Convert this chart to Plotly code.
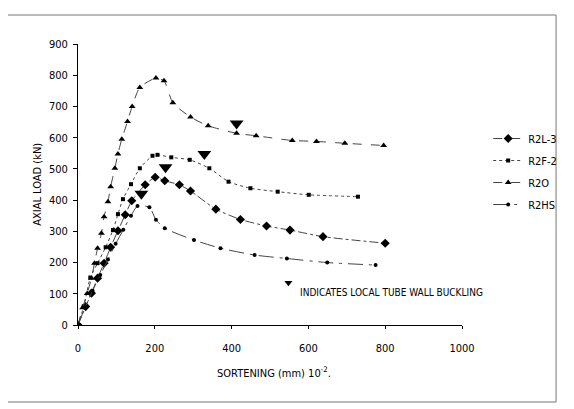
import plotly.graph_objects as go

# ---- data ----
r2l3_x = [0, 20, 35, 51, 68, 85, 104, 123, 140, 175, 201, 226, 264, 293, 359, 423, 491, 552, 638, 800]
r2l3_y = [0, 59, 102, 150, 198, 249, 302, 353, 398, 449, 473, 462, 449, 429, 371, 338, 317, 304, 283, 262]

r2f2_x = [0, 15, 32, 51, 72, 91, 104, 117, 138, 161, 194, 207, 243, 291, 342, 392, 449, 520, 601, 729]
r2f2_y = [0, 60, 152, 198, 249, 304, 355, 403, 451, 502, 542, 545, 537, 529, 502, 459, 438, 427, 417, 411]

r2o_x = [0, 12, 24, 35, 43, 51, 61, 68, 78, 85, 96, 104, 114, 129, 141, 161, 203, 224, 247, 293, 339, 413, 464, 558, 621, 695, 796]
r2o_y = [0, 55, 101, 150, 198, 246, 294, 347, 395, 443, 502, 548, 595, 652, 700, 761, 791, 782, 712, 666, 638, 614, 606, 591, 588, 582, 575]

r2hs_x = [0, 18, 38, 58, 78, 98, 118, 138, 155, 186, 203, 226, 302, 371, 460, 544, 649, 775]
r2hs_y = [0, 55, 110, 160, 210, 260, 305, 350, 381, 377, 337, 310, 272, 246, 224, 213, 200, 192]

buckle_x = [413, 329, 228, 165]
buckle_y = [645, 548, 505, 420]

note_x = [548]
note_y = [135]

x_ticks = [0, 200, 400, 600, 800, 1000]
y_ticks = [0, 100, 200, 300, 400, 500, 600, 700, 800, 900]

FONT = "DejaVu Sans Condensed, Liberation Sans Narrow, Arial Narrow, Liberation Sans, Arial, sans-serif"

fig = go.Figure()

series = [
    ("R2L-3", r2l3_x, r2l3_y, "dashdot", "diamond", 7),
    ("R2F-2", r2f2_x, r2f2_y, "dot", "square", 4),
    ("R2O", r2o_x, r2o_y, "dash", "triangle-up", 6),
    ("R2HS", r2hs_x, r2hs_y, "longdashdot", "circle", 4),
]
for name, xs, ys, dash, sym, sz in series:
    fig.add_trace(go.Scatter(
        x=xs, y=ys, name=name, mode="lines+markers", legendgroup=name,
        line=dict(color="#444444", width=1, dash=dash, shape="spline", smoothing=0.6),
        marker=dict(symbol=sym, size=sz, color="black"),
    ))

fig.add_trace(go.Scatter(
    x=buckle_x, y=buckle_y, mode="markers", showlegend=False,
    marker=dict(symbol="triangle-down", size=12, color="black"),
))
fig.add_trace(go.Scatter(
    x=note_x, y=note_y, mode="markers", showlegend=False,
    marker=dict(symbol="triangle-down", size=7, color="black"),
))

fig.add_annotation(x=572, y=103, xref="x", yref="y", text="INDICATES LOCAL TUBE WALL BUCKLING",
                   showarrow=False, xanchor="left", yanchor="middle",
                   font=dict(family=FONT, size=10, color="black"))
fig.add_annotation(x=(280 - 78) / 396, y=(325 - 372) / 281, xref="paper", yref="paper",
                   text="SORTENING (mm) 10<sup>-2</sup>.", showarrow=False,
                   xanchor="center", yanchor="middle",
                   font=dict(family=FONT, size=11, color="black"))
fig.add_annotation(x=(36 - 78) / 396, y=0.5, xref="paper", yref="paper",
                   text="AXIAL LOAD (kN)", textangle=-90, showarrow=False,
                   xanchor="center", yanchor="middle",
                   font=dict(family=FONT, size=11, color="black"))

# outer frame
fig.add_shape(type="rect", xref="paper", yref="paper",
              x0=(5 - 78) / 396, x1=(571 - 78) / 396,
              y0=(325 - 402) / 281, y1=(325 - 15) / 281,
              line=dict(color="#777777", width=1), fillcolor="rgba(0,0,0,0)")

# page has an 8px body margin, so the figure is shifted by 8px; compensate
fig.update_layout(
    width=566, height=401,
    margin=dict(l=70, r=100, t=36, b=84),
    paper_bgcolor="white", plot_bgcolor="white",
    font=dict(family=FONT, size=11, color="black"),
    showlegend=True,
    legend=dict(x=(501 - 78) / 396, y=(325 - 124) / 281, xanchor="left", yanchor="top",
                bgcolor="rgba(0,0,0,0)", tracegroupgap=3,
                font=dict(family=FONT, size=11, color="black"), itemwidth=30),
    xaxis=dict(range=[0, 1000], tickvals=x_ticks, showgrid=False, zeroline=False,
               showline=True, linecolor="black", linewidth=1, ticks="outside",
               ticklen=3, tickcolor="black", ticklabelstandoff=10,
               tickfont=dict(family=FONT, size=11)),
    yaxis=dict(range=[0, 900], tickvals=y_ticks, showgrid=False, zeroline=False,
               showline=True, linecolor="black", linewidth=1, ticks="outside",
               ticklen=4, tickcolor="black", ticklabelstandoff=3,
               tickfont=dict(family=FONT, size=11)),
)

fig.write_html("out.html")
